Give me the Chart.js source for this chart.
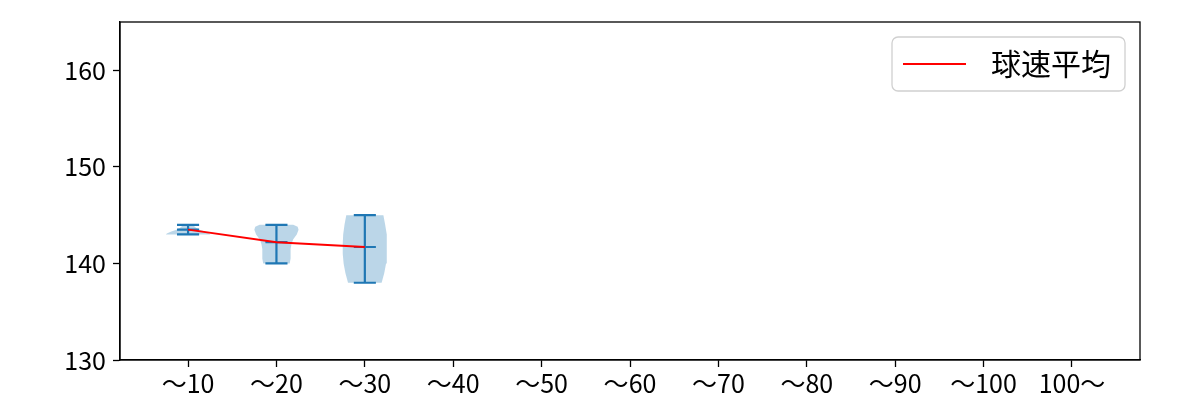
<!DOCTYPE html>
<html><head><meta charset="utf-8">
<script src="https://cdn.jsdelivr.net/npm/chart.js@4"></script>
<style>html,body{margin:0;padding:0;background:#fff}</style>
</head><body>
<div style="width:1200px;height:400px"><canvas id="c" width="1200" height="400"></canvas></div>
<script>
const categories = ['～10','～20','～30','～40','～50','～60','～70','～80','～90','～100','100～'];
const yTicks = [130, 140, 150, 160];
const meanSpeed = [143.5, 142.2, 141.7];
const minSpeed = [143, 140, 138];
const maxSpeed = [144, 144, 145];
// violin outlines: speed levels and half widths (category units)
const densityY10 = [143.0, 143.1, 143.3, 143.5, 143.7, 143.85, 144.0];
const densityW10 = [0.25, 0.24, 0.19, 0.13, 0.09, 0.07, 0.06];
const densityY20 = [140.0, 140.5, 141.0, 141.5, 142.0, 142.5, 143.0, 143.5, 143.8, 144.0];
const densityW20 = [0.15, 0.16, 0.16, 0.16, 0.17, 0.19, 0.23, 0.25, 0.24, 0.19];
const densityY30 = [138, 139, 140, 141, 142, 143, 144, 145];
const densityW30 = [0.19, 0.22, 0.24, 0.25, 0.25, 0.245, 0.23, 0.21];
const meanLabel = '球速平均';

const FONT = '"Noto Sans CJK JP", "Noto Sans", sans-serif';
const BLUE = '#1f77b4';
const densY = [densityY10, densityY20, densityY30];
const densW = [densityW10, densityW20, densityW30];

const datasets = [];
datasets.push({
  label: meanLabel, data: meanSpeed.map((v, i) => ({x: i + 1, y: v})),
  showLine: true, borderColor: '#ff0000', borderWidth: 2, pointRadius: 0, order: 0, fill: false
});
const stems = [];
const capW = 0.125;
for (let i = 0; i < minSpeed.length; i++) {
  const c = i + 1;
  stems.push({x: c, y: minSpeed[i]}, {x: c, y: maxSpeed[i]}, {x: c, y: null});
  stems.push({x: c - capW, y: maxSpeed[i]}, {x: c + capW, y: maxSpeed[i]}, {x: c, y: null});
  stems.push({x: c - capW, y: minSpeed[i]}, {x: c + capW, y: minSpeed[i]}, {x: c, y: null});
  stems.push({x: c - capW, y: meanSpeed[i]}, {x: c + capW, y: meanSpeed[i]}, {x: c, y: null});
}
datasets.push({
  label: 'extrema', data: stems, showLine: true, spanGaps: false, borderColor: BLUE,
  borderWidth: 2.2, pointRadius: 0, order: 1, fill: false
});
for (let i = 0; i < densY.length; i++) {
  const c = i + 1, ys = densY[i], ws = densW[i];
  const pts = [];
  for (let j = 0; j < ys.length; j++) pts.push({x: c + ws[j], y: ys[j]});
  for (let j = ys.length - 1; j >= 0; j--) pts.push({x: c - ws[j], y: ys[j]});
  pts.push({x: c + ws[0], y: ys[0]});
  datasets.push({
    label: 'violin' + c, data: pts, showLine: true, borderWidth: 0, borderColor: 'rgba(0,0,0,0)',
    backgroundColor: 'rgba(31,119,180,0.3)', fill: 'shape', pointRadius: 0, order: 2
  });
}

const framePlugin = {
  id: 'frame',
  afterDraw(chart) {
    const {ctx, chartArea: a} = chart;
    ctx.save();
    ctx.strokeStyle = '#000'; ctx.lineWidth = 1.3;
    ctx.strokeRect(a.left, a.top, a.right - a.left, a.bottom - a.top);
    // legend
    ctx.font = '30px ' + FONT;
    const label = chart.data.datasets[0].label;
    const tw = ctx.measureText(label).width;
    const w = 11 + 63 + 25 + tw + 14, h = 54;
    const x = a.right - 15 - w, y = a.top + 15;
    ctx.beginPath();
    ctx.roundRect(x, y, w, h, 6);
    ctx.fillStyle = 'rgba(255,255,255,0.8)'; ctx.fill();
    ctx.strokeStyle = '#d0d0d0'; ctx.lineWidth = 1.3; ctx.stroke();
    ctx.beginPath();
    ctx.moveTo(x + 11, y + h / 2); ctx.lineTo(x + 74, y + h / 2);
    ctx.strokeStyle = '#ff0000'; ctx.lineWidth = 2; ctx.stroke();
    ctx.fillStyle = '#000'; ctx.textBaseline = 'middle';
    ctx.fillText(label, x + 99, y + h / 2);
    ctx.restore();
  }
};

new Chart(document.getElementById('c'), {
  type: 'scatter',
  data: {datasets},
  plugins: [framePlugin],
  options: {
    responsive: false, animation: false, devicePixelRatio: 1,
    layout: {padding: {top: 19, right: 60, left: 0, bottom: 0}},
    plugins: {legend: {display: false}, tooltip: {enabled: false}},
    scales: {
      x: {
        type: 'linear', min: 0.23, max: 11.77,
        afterBuildTicks: s => { s.ticks = categories.map((_, i) => ({value: i + 1})); },
        ticks: {callback: v => categories[v - 1], font: {family: FONT, size: 25}, color: '#000',
                autoSkip: false, maxRotation: 0, padding: 1},
        grid: {display: true, drawOnChartArea: false, drawTicks: true, tickLength: 7, color: '#000', tickWidth: 1.3},
        border: {display: true, color: '#000', width: 1.3},
        afterFit: s => { s.height = 40; }
      },
      y: {
        type: 'linear', min: 130, max: 165,
        afterBuildTicks: s => { s.ticks = yTicks.map(v => ({value: v})); },
        ticks: {font: {family: FONT, size: 25}, color: '#000', padding: 7},
        grid: {display: true, drawOnChartArea: false, drawTicks: true, tickLength: 7, color: '#000', tickWidth: 1.3},
        border: {display: true, color: '#000', width: 1.3},
        afterFit: s => { s.width = 120; }
      }
    }
  }
});
</script>
</body></html>
